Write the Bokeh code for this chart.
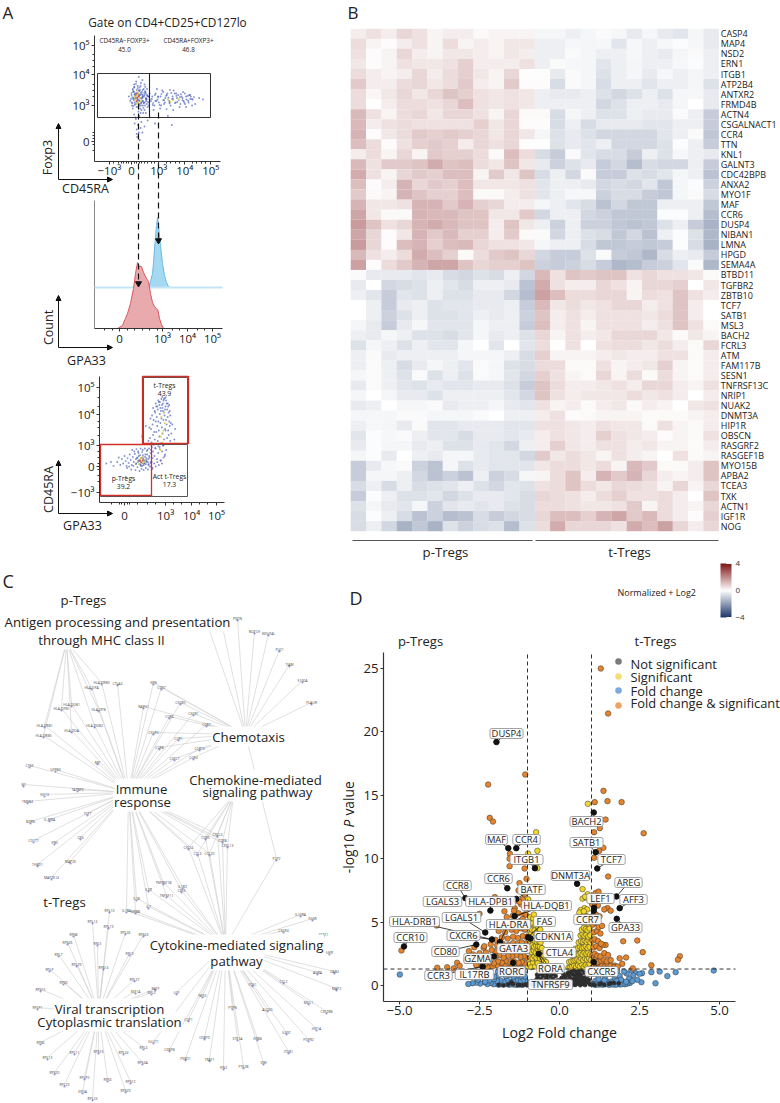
from math import pi
from bokeh.plotting import figure
from bokeh.models import (Range1d, LinearAxis, FixedTicker, Arrow, NormalHead, LinearColorMapper, ColorBar, ColumnDataSource)
from bokeh.core.properties import value
from bokeh.transform import transform
from bokeh.embed import file_html
from bokeh.resources import INLINE

FONT = "Open Sans"
# ---------- Panel B data ----------
genes = ["CASP4","MAP4","NSD2","ERN1","ITGB1","ATP2B4","ANTXR2","FRMD4B","ACTN4","CSGALNACT1","CCR4","TTN","KNL1","GALNT3","CDC42BPB","ANXA2","MYO1F","MAF","CCR6","DUSP4","NIBAN1","LMNA","HPGD","SEMA4A","BTBD11","TGFBR2","ZBTB10","TCF7","SATB1","MSL3","BACH2","FCRL3","ATM","FAM117B","SESN1","TNFRSF13C","NRIP1","NUAK2","DNMT3A","HIP1R","OBSCN","RASGRF2","RASGEF1B","MYO15B","APBA2","TCEA3","TXK","ACTN1","IGF1R","NOG"]
expr = [
[.3,.5,.3,.7,.5,.2,.3,.3,.1,.2,.2,.2,-.2,-.2,-.3,-.2,-.1,-.2,-.4,-.2,-.4,-.5,-.2,-.4],
[.6,.2,.05,.3,.5,.2,.6,.2,.3,.2,.4,.4,-.3,-.3,-.15,-.2,-.15,-.5,-.15,-.3,-.15,-.05,-.15,-.4],
[.5,.05,.2,.7,.3,.2,.4,.4,.3,.2,.4,.3,-.3,-.3,-.1,-.2,-.3,-.3,-.15,-.3,-.4,-.2,-.1,-.3],
[.4,.05,.2,.5,.4,.4,.5,.8,.3,.3,.3,.5,-.3,-.1,-.15,-.2,-.5,-.3,-.2,-.3,-.3,-.15,-.05,-.3],
[.6,.3,.2,.3,.7,.3,.6,.8,.4,.2,.7,.02,.02,-.4,-.1,-.2,-.6,-.3,-.2,-.4,-.15,-.3,-.2,-.3],
[.9,.3,.3,.6,.7,.4,.6,.9,.3,.2,.9,.05,.05,-.7,-.1,-.2,-.7,-.3,-.3,-.5,-.3,-.3,-.2,-.6],
[.6,.15,.4,.7,.4,.7,1,.8,.5,.4,.5,.4,-.3,-.4,-.4,-.3,-.6,-.8,-.6,-.3,-.6,-.2,-.15,-.4],
[.6,0,.3,.6,.6,.5,.7,1.1,.5,.4,.5,.4,-.3,-.3,-.3,-.3,-.8,-.6,-.3,-.3,-.4,-.2,0,-.4],
[1.2,.5,.2,.6,.7,.4,.7,.7,.5,.2,.7,.1,.1,-.7,-.2,-.3,-.6,-.6,-.3,-.4,-.4,-.1,-.3,-1.0],
[1.2,.3,.5,.6,.5,.5,.5,.5,.8,.4,.7,.05,.05,-.7,-.3,-.7,-.4,-.4,-.4,-.5,-.5,-.3,-.3,-1.0],
[1.3,.05,.4,.6,.9,.8,.9,.8,.7,.4,.7,.4,-.2,-.6,-.4,-.6,-.8,-.8,-.8,-.8,-.5,-.3,-.1,-1.1],
[1.1,.6,.05,.5,.8,.9,.8,.3,.7,.5,.7,.02,.02,-.6,-.4,-.5,-.3,-.8,-.8,-.8,-.6,-.05,-.3,-1.0],
[.3,.6,.2,.7,.2,.9,.8,.8,.6,.1,1.1,.6,-.7,-1.0,-.1,-.5,-.7,-.7,-1.0,-.3,-.6,-.15,-.3,-.4],
[1.2,.5,.9,.9,1,1.4,1,1.1,.6,.4,1,.4,-.4,-.9,-.6,-.4,-1.0,-.8,-1.3,-.7,-.8,-.8,-.3,-1.0],
[1.4,.5,.2,.7,.9,.8,1.1,1.1,.2,.9,.4,1,-.7,-.3,-.8,-.1,-1,-1,-.6,-.7,-.5,-.2,-.3,-1.2],
[1.1,.05,.3,1.3,.7,.9,.8,1.1,.4,.4,.4,.5,-.5,-.3,-.3,-.4,-.8,-.7,-.8,-.5,-1.1,-.2,-.05,-.9],
[.9,.1,.2,1.3,1,.8,.8,1.1,.1,.1,.3,.5,-.5,-.3,-.15,-.15,-.9,-.7,-.7,-1,-1.1,-.2,-.1,-.7],
[1.3,.4,.4,.5,1.3,1.3,.9,1.3,.8,.7,.3,.3,-.2,-.3,-.5,-.7,-1.2,-.8,-1.1,-1.1,-.3,-.3,-.3,-1.1],
[1.5,.4,.1,.1,1.3,1.2,1.2,1,1,.4,.4,.9,-.8,-.3,-.3,-.8,-.9,-1.1,-1.1,-1.1,-.05,-.05,-.3,-1.3],
[1.7,1,.5,.7,1.3,1.4,1.2,1,1,.3,1,.4,-.3,-.9,-.3,-.9,-.9,-1.1,-1.2,-1.1,-.6,-.3,-1.0,-1.5],
[1.5,.7,.05,.4,1.3,.9,1.2,.8,.8,.3,.9,.1,-.1,-.8,-.3,-.6,-.7,-1.1,-.8,-1.2,-.3,-.05,-.6,-1.4],
[1.7,.7,.05,1.1,1.3,.8,1.1,1.2,.7,.5,.5,.4,-.2,-.3,-.3,-.7,-1.1,-1.1,-1.0,-1.1,-1.0,-.05,-.7,-1.5],
[1.2,.5,.3,.6,1.4,1.1,.8,.1,.6,.9,1,.7,-.8,-1,-1,-.6,-.1,-1,-1.1,-1.4,-.7,-.3,-.4,-1.0],
[1.6,.05,.6,.9,1.3,1.5,1.5,1,.7,.8,.8,1,-.9,-1,-.9,-.7,-1,-1.4,-1.3,-1,-.9,-.5,-.1,-1.4],
[-.1,-.4,-.4,-.4,-.5,-.4,-.7,-.8,-.6,-.7,-.3,-.8,1.2,.5,1,.9,1,1,.5,.7,.5,.5,.4,.1],
[-.4,0,-.8,-.7,-.6,-.3,-.5,-.7,-.3,-.3,-.4,-1.2,1.4,.5,.3,.3,.7,.5,.2,.7,.7,.8,0,.4],
[-.3,-.5,-1,-.5,-.6,-.3,-.6,-.6,-.4,-.4,-.8,-1.3,1.6,1.1,.6,.6,.7,.7,.2,.6,.5,1.0,.5,.3],
[0,-.3,-1,-.4,-.3,-.6,-.5,-.5,-.4,-.4,-.3,-1,1.2,.4,.6,.4,.5,.7,.7,.3,.5,1,.3,0],
[0,-.3,-.9,-.6,-.3,-.6,-.6,-.5,-.3,-.4,-.3,-.9,1,.3,.5,.3,.5,.5,.5,.4,.6,1,.3,0],
[-.2,-.4,-1,-.4,-.2,-.5,-.5,-.5,-.2,-.3,-.3,-1,1.1,.3,.5,.2,.5,.5,.5,.3,.5,1,.5,.1],
[-.3,-.4,-.2,-.3,-.6,-.6,-.7,-.5,-.2,-.4,-.3,-.6,.7,.2,.5,.3,.4,.7,.7,.7,.4,.1,.4,.2],
[-.6,-.2,-.3,-.6,-.3,-.5,-.5,-.2,0,-.5,0,-.5,.6,0,.5,0,.5,.6,.6,.4,.6,.3,.1,.7],
[-.3,-.1,-.4,-.3,-.3,-.3,-.3,-.2,-.2,-.2,-.3,-.7,.8,.2,.2,.2,.3,.4,.3,.3,.5,.5,.1,.3],
[-.3,-.1,-.3,-.7,-.4,-.2,-.3,-.5,-.1,-.2,-.6,-.7,.6,.6,.1,.1,.5,.2,.3,.4,.8,.2,.1,.3],
[-.2,-.1,-.3,-.6,-.1,-.6,-.3,-.6,-.1,-.2,-.5,-.8,.8,.5,.2,.1,.7,.2,.6,.1,.6,.2,.1,.3],
[-.4,-.1,-.3,-.5,-.6,-.4,-.5,-.5,-.4,-.4,-.6,-1,1,.6,.3,.3,.4,.5,.3,.7,.7,.3,.2,.5],
[-.2,0,-.2,-.4,-.4,-.6,-.3,-.3,-.3,-.3,-.5,-.8,1,.5,.3,.4,.4,.4,.6,.4,.5,.3,0,.3],
[-.4,-.3,0,-.2,-.2,-.1,-.4,-.3,-.3,-.2,-.4,-.5,.5,.2,.3,.1,.3,.4,.1,.3,.2,0,.4,.5],
[-.2,-.2,-.2,-.1,-.1,-.2,-.2,-.2,-.1,0,-.3,-.3,.3,.5,.05,.1,.2,.2,.2,.1,.1,.1,.2,.3],
[-.3,-.15,-.2,-.4,-.1,-.5,-.5,-.4,-.4,-.4,-.5,-.5,.5,.5,.4,.3,.5,.4,.4,.1,.5,.2,.1,.3],
[-.5,-.05,-.15,-.1,-.3,-.5,-.5,-.7,-.4,-.4,-.5,-.4,.3,.5,.4,.3,.8,.5,.4,.3,.05,.2,.1,.5],
[-.4,-.05,-.2,-.2,-.4,-.3,-.6,-.6,-.4,-.5,-.8,-.3,.3,.8,.4,.3,.5,.5,.3,.4,.2,.2,.1,.3],
[-.2,-.05,-.4,0,-.3,-.4,-.2,-.2,-.4,-.5,-.5,-.8,.9,.4,.6,.4,.2,.5,.3,.2,0,.5,.1,.2],
[-1,-.4,-.15,-.1,-.9,-1.2,-.2,-.6,-.4,-.5,-.5,-.5,.4,.6,.6,.4,.6,.2,1.2,.9,.1,.1,.3,1.0],
[-1,-.2,-.2,-.3,-.8,-1.2,-.9,-1.2,-.3,-.9,-.7,-.2,.2,.6,1,.3,1.3,.9,1.3,.7,.3,.2,.3,1.0],
[-.7,-.3,-.7,-.3,-.7,-.6,-.5,-.3,-.6,-.8,-.5,-.6,.5,.6,1,.6,.4,.7,.6,.5,.2,.7,.2,.7],
[-1,-.05,-.3,-.6,-.6,-.5,-.8,-.6,-.4,-.4,-.5,-.7,.7,.6,.5,.3,.6,.8,.5,.5,.6,.3,0,1.0],
[-.6,-.2,-.4,-.5,-.2,-.9,-.5,-.4,-.5,-.4,-.6,-.7,.6,.6,.5,.4,.4,.5,.9,.2,.6,.3,.2,.7],
[-.7,-.05,-.3,-.7,-1.2,-.9,-1.3,-1.2,-.7,-1,-.8,-.7,.7,1.1,1.1,.8,1.3,1.5,.9,1.2,.6,.3,.05,.8],
[-.7,-.3,-.8,-1.5,-1.1,-1.5,-.6,-.9,-.7,-.6,-1.3,-.6,.6,1.4,.7,.7,.7,.5,1.4,1.1,1.6,.7,.3,.7],
]
# ---------- Panel A data (biexponential display units) ----------
a1_tick_x = [-0.85, 0, 1.05, 2.05, 3.05]
a1_tick_y = [0, 1.2, 2.23, 3.2]
a1_blue_x = [-.1,-.05,0,.02,.05,.08,.1,.12,.15,.18,.2,.22,.25,.28,.3,.32,.35,.38,.4,.42,.45,.48,.5,.52,.55,.58,.6,.62,.65,.68,.7,.05,.12,.2,.3,.42,.5,.6,.7,.1,.18,.28,.38,.47,.56,.66,0,.07,.16,.24,.34,.44,.54,.64,.75,.8,.88,.93,1,1.05,1.12,1.18,1.25,1.3,1.38,1.45,1.5,1.58,1.62,1.7,1.75,1.8,1.88,1.92,2,2.05,2.12,2.2,2.28,2.35,2.45,2.6,2.75,.85,.98,1.1,1.22,1.35,1.48,1.6,1.72,1.85,1.98,2.1,2.22,2.33,.1,.17,.25,.3,.38,.2,.12,.28,.35,.22,.15,.32,.42,.55,.62,.27,.5,.9,1.4,1.55,.45,.7,.2,.35,
 -.02,.03,.06,.09,.11,.13,.16,.17,.19,.21,.23,.24,.26,.27,.29,.31,.33,.34,.36,.37,.39,.41,.43,.44,.46,.49,.51,.53,.56,.59,.03,.07,.1,.14,.18,.2,.24,.28,.31,.35,.39,.43,.47,.52,.57,.61,.01,.06,.12,.15,.22,.26,.3,.33,.37,.41,.46,.5,.55,.63,.78,.83,.9,.96,1.03,1.08,1.15,1.22,1.28,1.33,1.42,1.47,1.53,1.6,1.67,1.73,1.82,1.9,1.96,2.03,2.1,2.18,2.25,2.32,2.4,.82,.92,1.02,1.14,1.26,1.36,1.46,1.56,1.66,1.76,1.86,1.96,2.06,2.16,2.26]
a1_blue_y = [1.5,1.35,1.62,1.2,1.75,1.45,1.9,1.3,1.6,2.0,1.15,1.7,1.4,2.15,1.55,1.25,1.85,1.05,1.65,2.05,1.35,1.5,1.9,1.2,1.6,1.4,1.75,1.15,1.5,1.3,1.6,1.1,1.55,1.35,1.2,1.45,1.05,1.55,1.4,1.8,1.25,1.7,1.3,1.75,1.35,1.2,1.55,1.65,1.45,1.85,1.55,1.2,1.65,1.5,1.35,1.5,1.2,1.6,1.4,1.3,1.5,1.7,1.25,1.45,1.6,1.35,1.2,1.5,1.7,1.3,1.45,1.55,1.25,1.5,1.35,1.6,1.4,1.3,1.5,1.4,1.25,1.45,1.4,1.05,1.75,1.1,1.65,1.08,1.72,1.05,1.6,1.15,1.65,1.15,1.55,1.2,.9,.75,.55,.85,.65,.4,.6,.3,.45,.15,.8,.05,.3,.95,.7,1.0,.5,.6,.85,.55,.95,.8,.25,.95,
 1.42,1.28,1.7,1.38,1.82,1.22,1.52,1.92,1.33,1.62,1.47,1.78,1.15,1.56,1.38,1.68,1.1,1.45,1.95,1.28,1.58,1.35,1.72,1.5,1.12,1.62,1.3,1.82,1.45,1.25,1.48,1.18,1.66,1.42,1.58,1.72,1.3,1.5,1.8,1.62,1.42,1.55,1.28,1.68,1.42,1.52,1.3,1.42,1.58,1.25,1.42,1.6,1.35,1.72,1.2,1.48,1.3,1.55,1.42,1.32,1.42,1.28,1.55,1.35,1.48,1.22,1.58,1.38,1.3,1.52,1.46,1.3,1.62,1.42,1.28,1.52,1.38,1.58,1.45,1.3,1.5,1.36,1.55,1.42,1.48,1.22,1.35,1.5,1.2,1.38,1.55,1.28,1.42,1.6,1.32,1.48,1.38,1.25,1.52,1.42]
a1_hot_x = [.15,.2,.25,.28,.18,.32,.22,.12,.36,.27,1.4,1.6,1.5,1.8]
a1_hot_y = [1.4,1.55,1.3,1.6,1.25,1.45,1.7,1.5,1.35,1.48,1.4,1.38,1.32,1.42]
a1_red_x = [.22,.18,.27,.2]
a1_red_y = [1.45,1.58,1.5,1.35]
hist_red_x = [-.08,.12,.32,.44,.56,.64,.72,.80,.88,.96,1.08,1.16,1.24,1.32,1.40,1.48,1.54,1.60,1.68,1.76]
hist_red_y = [0,3,15,25,40,55,66,62,62,56,50,47,35,26,22,20,18,10,4,0]
hist_blue_x = [1.16,1.24,1.32,1.36,1.42,1.48,1.52,1.56,1.64,1.72,1.80,1.88,1.96,2.04]
hist_blue_y = [0,6,14,25,45,62,70,62,42,24,12,5,1,0]
hist_blue_base = 41
a2_tick_x = [0, 1.72, 2.72, 3.72]
a3_tick_x = [0, 1.58, 2.58, 3.54]
a3_tick_y = [-.87, 0, .7, 1.73, 2.63]
a3_blue_x = [-.28,-.22,-.16,-.1,-.05,0,.04,.08,.12,.16,.2,.24,.28,.32,.36,.4,.44,.48,.52,.56,.6,.64,.68,.72,.76,.8,.84,.88,.92,.96,1.0,1.04,1.08,.1,.18,.26,.34,.42,.5,.58,.66,.74,.82,.9,.98,1.06,.3,.38,.46,.54,.62,.7,.78,.86,.94,1.02,.45,.53,.61,.69,.77,.85,.93,1.01,.55,.63,.71,.79,.87,.95,.6,.68,.76,.84,.92,1.0,.5,.58,.66,.74,.82,.9,.44,.52,.6,.68,.76,.84,
 1.05,1.1,1.15,1.2,1.25,1.3,1.35,1.4,1.45,1.5,1.55,1.6,1.08,1.14,1.2,1.26,1.32,1.38,1.44,1.5,1.56,1.12,1.18,1.24,1.3,1.36,1.42,1.48,
 .92,.98,1.04,1.1,1.16,1.22,1.28,1.34,1.4,1.46,1.52,1.58,1.64,1.7,1.76,.96,1.02,1.08,1.14,1.2,1.26,1.32,1.38,1.44,1.5,1.56,1.62,1.68,1.74,1.8,1.0,1.06,1.12,1.18,1.24,1.3,1.36,1.42,1.48,1.54,1.6,1.66,1.72,1.78,1.84,1.1,1.16,1.22,1.28,1.34,1.4,1.46,1.52,1.58,1.64,1.7,1.76,1.2,1.26,1.32,1.38,1.44,1.5,1.56,1.62,1.68,1.74,1.3,1.36,1.42,1.48,1.54,1.6,1.66,1.45,1.52,1.58,
 -.7,-.52,-.42,.68,.82,1.92,.72,1.72,.05,1.95]
a3_blue_y = [.15,.3,.05,.25,.1,.35,.18,.02,.28,.12,.4,.22,.05,.32,.15,.42,.08,.28,.5,.18,.38,.02,.48,.25,.1,.4,.18,.55,.08,.3,.45,.15,.28,-.05,.0,-.1,.02,-.12,-.02,-.15,-.08,-.12,-.05,-.1,.0,-.08,.55,.5,.58,.45,.6,.55,.6,.52,.6,.55,.1,.2,.05,.3,.12,.22,.05,.15,.35,.28,.38,.32,.4,.35,.18,.1,.2,.15,.25,.12,.3,.22,.12,.05,.08,.15,.25,.15,.08,.02,.2,.28,
 .65,.5,.35,.6,.25,.45,.65,.2,.5,.7,.35,.55,-.05,.1,.0,.15,.05,.2,.1,.3,.4,.72,.62,.75,.68,.58,.75,.7,
 .85,.95,.8,1.05,.9,1.15,.85,1.0,.78,1.1,.9,1.2,.95,1.05,.85,1.3,1.25,1.4,1.15,1.5,1.35,1.2,1.45,1.3,1.55,1.25,1.4,1.2,1.35,1.1,1.6,1.7,1.55,1.8,1.65,1.5,1.75,1.6,1.85,1.7,1.55,1.65,1.5,1.45,1.4,1.95,1.85,2.0,1.9,2.05,1.85,1.95,1.8,2.0,1.9,1.8,1.7,2.1,2.0,2.15,1.95,2.05,2.2,1.9,2.1,2.0,1.85,2.2,2.15,2.25,2.1,2.28,2.2,2.1,2.32,2.25,2.3,
 .1,.15,.02,1.0,1.35,.9,1.75,2.05,-.35,1.25]
a3_hot_x = [.5,.58,.66,.7,.75,.62,.8,.55,.72,1.4,1.5,1.45,1.55,1.42,1.48,1.38,1.52]
a3_hot_y = [.15,.22,.1,.2,.15,.28,.22,.08,.32,1.0,1.2,.8,1.45,1.65,1.1,.55,1.8]
a3_red_x = [.64,.7,.6]
a3_red_y = [.14,.2,.2]
# ---------- Panel C data ----------
ant_leaves = [("HLA-DRB5",101,682),("HLA-DPA",91,687),("HLA-DQB1",71,704),("HLA-DPB1",61,708),("HLA-DPB",98,709),("HLA-DRB1",44,725),("HLA-DOA",71,730),("HLA-DOB2",94,725),("HLA-DRB5",43,735)]
che_leaves = [("PEAK1",220,617),("PXDN",237,618),("NOTCH",254,631),("NDUFAL",268,633),("PLD1",279,649),("TIAM",289,664),("S100A",302,680),("PLAUR",311,702),("FLNA",203,613)]
mid_leaves = [("SPN",153,682),("CD97",161,687),("RAPH1",143,706),("CXCR5",180,702),("CXCR1",193,713),("CCR6",169,716),("CCR7",206,724),("CXCR3",153,732),("CCR1",178,738),("CCR10",199,748),("CCR8",159,747),("CXCL7",174,758),("CCR4",193,757)]
imm_leaves = [("CTLA4",117,683),("MIF",97,762),("CTSK",29,765),("GFPB3",55,769),("B7",23,784),("KIF13",44,794),("TAPBP2",77,789),("TMSB4",27,801),("TCF7",87,813),("BZRN",30,821),("IL-MRA",49,819),("CD177",33,840),("IFNI",54,842),("CKS",80,837),("THBD1",37,864),("MAP2K",70,861),("MAP2K14",51,877)]
ccl_leaves = [("CCR5",205,837),("CXCL3",217,834),("CCR8",222,840),("CXCL13",227,845),("CXCL6",188,847),("CCL3",197,853),("CCL20",209,853)]
cyt_leaves = [("TNFRSF1B",163,882),("IL1R2",182,886),("CSF6",181,890),("IL2R",148,889),("TNFSF11",166,895),("IL18",136,898),("IL7",148,906),("IL1RA",126,910),("NRBB",135,911)]
cyt2_leaves = [("PLP2",276,858),("IL10RA",300,914),("FGSR",312,918),("CXCR4",283,930),("STAT1",323,934),("LIFR",329,952),("AQRA",317,972),("GAB2",334,971),("MAP2",336,988),("CCL2",283,981),("CSF2RB",326,1011),("MOL1",308,1002),("HIF1A",316,1028),("IL6ST",286,1032),("PGPR2",308,1039),("ITGB1",288,1051),("VIM",263,1062),("PTK2B",243,1066),("IFN2",223,1067),("STK1A",237,1038),("ERBB",257,1038),("ALOX5",267,1009),("PTPN",232,1007),("FOS1",252,984),("NFE2",202,995),("LGF",176,992),("COF1",188,1019),("CEBPD",204,1037),("TRAF1",209,1059),("PSBD1",185,1058),("CEBPB",169,1049),("GLUT1",153,1041)]
vir_leaves = [("RPL10",109,910),("RPL14",92,921),("RPL19",108,926),("RPS8",73,934),("RPL36",125,932),("RPS24",143,934),("RPS26",67,942),("RPL5",97,943),("RPL7",58,954),("RPL9",129,953),("RPL29",76,964),("RPS14",103,967),("RPLP",49,969),("RPL27",134,979),("RPS9",63,982),("RPS15",40,989),("EEF1A",135,991),("BATF",155,988),("RPL3",151,992),("RPLP1",37,1007),("RPS6",40,1042),("RPL13",47,1057),("RPL11",74,1052),("RPS16",98,1051),("RPL34",123,1052),("RPL4",143,1047),("RPS3A",142,1062),("RPS20",54,1072),("RPLP0",84,1077),("RPS3",107,1079),("RPS12",130,1081),("RPL23",64,1084),("RPS29",125,1090),("EIF3A",82,1091),("RPL24",92,1098)]
# ---------- Panel D data ----------
v_ticks_x = [-5, -2.5, 0, 2.5, 5]
v_ticks_y = [0, 5, 10, 15, 20, 25]
v_gray_x = [-.95,-.88,-.8,-.72,-.65,-.58,-.5,-.42,-.35,-.28,-.2,-.12,-.9,-.78,-.68,-.6,-.52,-.44,-.38,-.3,-.22,-.15,-.7,-.62,-.55,-.47,-.4,-.32,-.25,-.18,-.5,-.42,-.35,-.28,-.2,-.14,.12,.18,.25,.32,.4,.47,.55,.62,.7,.78,.85,.92,.16,.22,.3,.37,.44,.52,.6,.67,.75,.82,.9,.2,.27,.34,.42,.5,.57,.64,.72,.8,.24,.32,.39,.46,.53,.6,.68,.76,.3,.37,.45,.52,.58,.66,.4,.48,.55,.62,-1.9,-1.75,-1.6,-1.45,-1.3,-1.15,-1.0,-.85,-.7,-.55,-.4,-.25,-.1,.05,.2,.35,.5,.65,.8,.95,1.1,1.25,1.4,1.55,1.7,1.85,-1.5,-1.25,-1.05,-.75,-.45,-.15,.1,.45,.75,1.05,1.3,1.6,-.05,.02,.08,.12,-.02,.06]
v_gray_y = [.2,.3,.25,.45,.3,.5,.35,.6,.4,.7,.5,.75,.1,.12,.65,.15,.75,.22,.85,.18,.9,.3,.85,.9,.95,1.0,.95,1.05,1.1,1.0,.08,.1,.12,.1,.15,.12,.4,.7,.95,1.15,1.35,1.45,1.4,1.3,1.2,1.0,.7,.45,.2,.45,.75,1.0,1.2,1.1,1.05,.85,.6,.4,.25,.15,.3,.55,.85,.8,.9,.7,.5,.25,.1,.12,.35,.55,.6,.45,.3,.15,.08,.2,.3,.28,.35,.12,.1,.08,.15,.15,.05,.02,.08,.12,.04,.02,.06,.02,.01,.05,.03,.01,.02,.05,.02,.03,.06,.03,.04,.08,.02,.1,.05,.12,.2,.18,.25,.05,.08,.1,.03,.1,.08,.06,.12,.1,.15,.2,.4,.15,.6,.9,.25,.55]
v_yel_x = [-.98,-.93,-.88,-.82,-.76,-.7,-.64,-.58,-.52,-.46,-.4,-.36,-.96,-.9,-.84,-.78,-.72,-.66,-.6,-.54,-.48,-.42,-.94,-.87,-.8,-.74,-.68,-.62,-.56,-.5,-.92,-.85,-.79,-.73,-.67,-.61,-.55,-.96,-.9,-.84,-.77,-.71,-.65,-.59,-.95,-.88,-.81,-.75,-.69,-.63,-.93,-.86,-.78,-.7,-.64,-.96,-.84,-.75,-.66,-.92,-.82,-.72,-.98,-.88,-.8,-.6,-.68,-.73,-.73,-.69,-.98,-.69,
 .28,.34,.4,.46,.52,.58,.64,.7,.76,.82,.88,.94,.3,.37,.44,.5,.56,.62,.68,.74,.8,.86,.92,.98,.4,.47,.53,.6,.66,.72,.78,.84,.9,.96,.5,.58,.64,.7,.76,.82,.88,.94,.6,.67,.73,.79,.85,.91,.97,.66,.72,.78,.84,.9,.96,.7,.76,.82,.88,.94,.74,.82,.9,.78,.86,.95,.78,.86,.68,.72,.82,.88,.94,.72,.66,.62,.885,.8,.76]
v_yel_y = [1.5,1.7,1.45,1.8,1.5,1.9,1.55,1.7,1.45,1.6,1.45,1.4,2.1,2.2,2.15,2.3,2.2,2.35,2.1,2.2,1.95,1.85,2.7,2.65,2.75,2.6,2.85,2.7,2.55,2.4,3.1,3.2,3.05,3.15,3.1,3.05,2.95,3.5,3.65,3.6,3.5,3.45,3.5,3.4,4.0,4.1,3.95,3.85,3.9,3.8,4.5,4.4,4.35,4.2,4.25,5.0,4.9,4.75,4.6,5.4,5.3,5.1,6.8,6.2,5.6,4.4,1.75,12.09,9.6,9.25,10.4,10.62,
 1.4,1.45,1.5,1.6,1.45,1.6,1.5,1.65,1.45,1.6,1.5,1.7,1.85,1.9,1.95,2.0,2.05,1.95,2.1,2.0,2.15,2.05,2.15,2.0,2.35,2.45,2.5,2.45,2.55,2.45,2.6,2.5,2.6,2.45,2.9,2.95,3.05,2.95,3.0,3.1,2.95,3.05,3.4,3.5,3.45,3.55,3.45,3.55,3.4,3.95,4.05,3.9,4.0,3.85,3.95,4.4,4.55,4.45,4.35,4.5,5.0,5.05,4.9,5.55,5.45,5.3,6.1,6.0,5.8,6.85,6.95,7.2,6.7,7.6,5.95,5.75,14.33,7.0,5.85]
v_org_x = [1.29,1.52,-1.07,-2.23,1.375,1.5,1.94,1.10,-2.18,-2.08,1.44,1.26,1.08,2.63,1.37,1.24,-1.55,1.08,-1.56,-1.56,-1.09,-1.03,-1.25,1.52,-2.02,1.99,2.43,2.6,1.44,1.88,2.08,1.96,2.87,3.76,3.70,2.29,1.72,-4.94,-3.84,-3.82,-3.51,-3.3,-3.2,-3.12,-2.83,-2.66,-2.37,-2.5,
 -1.2,-1.3,-1.38,-1.5,-1.62,-1.72,-1.85,-1.95,-2.1,-2.25,-1.1,-1.18,-1.28,-1.42,-1.55,-1.68,-1.8,-1.92,-2.05,-2.18,-2.32,-2.45,-2.6,-1.04,-1.12,-1.22,-1.35,-1.48,-1.6,-1.75,-1.88,-2.0,-2.15,-2.28,-2.42,-2.55,-2.72,-2.9,-1.02,-1.1,-1.25,-1.4,-1.52,-1.68,-1.82,-1.98,-2.12,-2.3,-2.5,-2.7,-1.05,-1.18,-1.32,-1.45,-1.6,-1.78,-1.95,-2.15,-2.35,-1.03,-1.15,-1.3,-1.45,-1.62,-1.8,-2.0,-1.08,-1.2,-1.35,-1.5,-1.7,-1.9,-1.06,-1.22,-1.38,-1.55,-1.75,-1.1,-1.28,-1.46,-1.65,-1.05,-1.2,-1.4,-1.15,-1.35,-1.1,-1.28,-1.55,-1.42,-1.3,-1.15,-1.05,-1.72,-1.25,
 1.02,1.08,1.14,1.2,1.27,1.34,1.42,1.5,1.6,1.7,1.82,1.05,1.12,1.2,1.3,1.38,1.48,1.6,1.03,1.1,1.18,1.28,1.4,1.52,1.06,1.15,1.25,1.35,1.03,1.1,1.2,1.3,1.08,1.17,1.28,1.04,1.12,1.22,1.33,1.05,1.14,1.25,1.02,1.1,1.2,1.05,1.13,1.22,1.5,1.4,1.6]
v_org_y = [25.0,21.45,16.64,15.85,15.35,14.54,14.46,14.46,13.22,12.93,13.09,12.41,12.09,12.01,10.86,10.62,10.38,10.07,10.0,9.41,9.23,8.41,8.07,8.6,6.97,3.49,3.55,2.63,3.2,2.15,2.21,1.71,1.6,2.31,2.03,1.35,1.58,2.76,4.73,1.4,1.44,1.35,1.79,1.55,2.71,3.02,2.97,5.65,
 1.38,1.45,1.4,1.5,1.42,1.55,1.45,1.6,1.5,1.42,1.75,1.85,1.8,1.9,1.85,1.95,1.8,1.9,1.75,1.85,1.7,1.55,1.6,2.2,2.3,2.25,2.4,2.3,2.35,2.2,2.4,2.3,2.25,2.15,2.3,2.1,2.2,1.95,2.75,2.85,2.75,2.9,2.8,2.7,2.85,2.7,2.8,2.6,2.55,2.45,3.3,3.4,3.25,3.35,3.2,3.3,3.15,3.25,3.1,3.8,3.9,3.75,3.85,3.7,3.8,3.6,4.4,4.5,4.3,4.4,4.2,4.3,5.0,5.1,4.9,5.0,4.7,5.6,5.7,5.5,5.4,6.2,6.4,6.1,6.8,6.7,7.2,7.5,6.5,5.9,4.75,5.25,5.6,5.85,6.6,
 1.4,1.5,1.42,1.55,1.45,1.6,1.5,1.7,1.55,1.45,1.5,1.9,2.0,1.85,1.95,2.05,1.9,2.0,2.4,2.5,2.35,2.3,2.55,2.4,3.0,3.1,2.95,3.2,3.55,3.65,3.5,3.3,4.2,4.3,4.1,4.8,4.95,4.6,4.7,5.5,5.6,5.45,6.4,6.5,6.3,7.1,7.3,7.4,6.1,6.0,5.9]
v_blue_x = [-4.99,4.82,3.0,3.37,3.63,3.13,2.87,2.56,2.58,2.5,2.43,2.35,2.3,2.25,2.18,2.1,2.02,1.95,1.88,1.8,1.72,1.65,1.58,1.5,1.42,1.35,1.28,1.2,1.12,1.05,2.2,2.12,2.05,1.98,1.9,1.82,1.75,1.66,1.55,1.45,1.35,1.25,1.15,1.05,2.28,2.08,1.92,1.78,1.6,1.4,1.22,
 -1.02,-1.1,-1.18,-1.26,-1.34,-1.42,-1.5,-1.58,-1.66,-1.74,-1.82,-1.9,-1.98,-2.06,-2.15,-2.25,-2.35,-2.48,-2.6,-2.72,-2.85,-1.05,-1.15,-1.25,-1.35,-1.45,-1.55,-1.65,-1.75,-1.85,-1.95,-2.05,-2.2,-2.32,-1.08,-1.2,-1.32,-1.44,-1.56,-1.68,-1.8,-1.92,-2.04,-1.12,-1.28,-1.44,-1.6,-1.76,-1.92,-2.3,-2.55]
v_blue_y = [.87,1.18,.18,.74,1.05,1.1,1.05,.26,.97,.92,.45,1.05,.8,1.2,.55,.95,1.1,.35,.75,1.15,.5,.9,1.15,.3,.65,1.05,.15,.8,.35,.1,.2,.15,.1,.12,.08,.1,.06,.08,.05,.1,.06,.08,.05,.12,.35,.3,.45,.35,.3,.4,.5,
 .08,.1,.06,.08,.05,.07,.1,.06,.12,.08,.1,.06,.15,.1,.2,.12,.25,.15,.22,.18,.12,.35,.4,.3,.45,.35,.3,.42,.28,.4,.35,.5,.4,.3,.7,.75,.8,.7,.85,.75,.9,.8,.7,1.05,1.1,1.0,1.15,1.05,1.1,.9,.45]
v_blk_x = [-1.97,-1.60,-1.35,-.77,-1.63,-2.94,-1.35,-2.16,-1.40,-2.32,-2.11,-1.86,-.98,-.91,-4.86,-2.60,-2.05,-2.40,-1.45,-.65,1.13,1.18,1.07,.55,1.78,1.88,1.08,1.07,1.79,1.07]
v_blk_y = [19.2,10.83,10.83,9.25,7.67,6.89,6.83,5.91,5.47,4.18,3.63,3.42,3.81,3.71,3.08,3.23,2.29,1.5,1.79,2.5,10.51,9.23,13.64,8.02,7.02,6.1,6.13,5.89,5.26,1.84]
v_labels = [("DUSP4",506,733,0),("MAF",496,839,1),("CCR4",526,839,2),("ITGB1",526,859,3),("CCR6",498,878,4),("CCR8",457,885,5),("BATF",531,889,6),("HLA-DPB1",490,901,7),("HLA-DQB1",546,905,8),("LGALS3",442,901,5),("LGALS1",461,917,9),("HLA-DRB1",414,921,10),("HLA-DRA",508,924,11),("FAS",544,921,12),("CDKN1A",553,936,13),("CCR10",410,937,14),("CXCR6",463,935,10),("CD80",445,951,15),("GATA3",513,948,11),("GZMA",477,958,16),("CCR3",438,975,17),("IL17RB",474,974,17),("RORC",511,971,18),("CTLA4",559,952,19),("RORA",550,968,19),("TNFRSF9",550,984,19),("SATB1",586,842,20),("TCF7",611,859,21),("BACH2",586,821,22),("DNMT3A",570,875,23),("AREG",628,882,24),("AFF3",633,899,25),("LEF1",600,898,26),("CCR7",587,919,27),("GPA33",625,927,28),("CXCR5",601,971,29)]
legend_names = ["Not significant","Significant","Fold change","Fold change & significant"]
legend_cols = ["#7a7a7a","#f3de78","#7ba8dd","#eda364"]

# ---------- Canvas ----------
W, H = 780, 1103
p = figure(width=W, height=H, x_range=Range1d(0, W), y_range=Range1d(H, 0),
           output_backend="svg", toolbar_location=None, x_axis_location=None, y_axis_location=None,
           min_border=0, outline_line_color=None)
p.grid.visible = False

def xr(name, a0, p0, a1, p1):
    k = (a1 - a0) / (p1 - p0)
    p.extra_x_ranges[name] = Range1d(a0 + (0 - p0) * k, a0 + (W - p0) * k)
def yr(name, a0, p0, a1, p1):
    k = (a1 - a0) / (p1 - p0)
    p.extra_y_ranges[name] = Range1d(a0 + (H - p0) * k, a0 + (0 - p0) * k)

def txt(x, y, s, size, color="#222222", angle=0, align="center", base="middle", style="normal", **kw):
    return p.text(x=[x], y=[y], text=[s], text_font=value(FONT), text_font_size=f"{size}px", text_color=color,
           angle=angle, text_align=align, text_baseline=base, text_font_style=style, **kw)

def axis(kind, xn, yn, loc, ticks, labels, bounds, size=11.5, minor=None, color="#333333", width=1, tick=3, standoff=2):
    ax = LinearAxis(x_range_name=xn, y_range_name=yn, fixed_location=loc, bounds=bounds,
             ticker=FixedTicker(ticks=ticks, minor_ticks=minor or []),
             major_label_overrides=dict(zip(ticks, labels)),
             major_label_text_font=FONT, major_label_text_font_size=f"{size}px",
             major_label_text_color="#222222", major_label_standoff=standoff,
             axis_line_color=color, axis_line_width=width, major_tick_line_color=color,
             major_tick_in=0, major_tick_out=tick, minor_tick_in=0, minor_tick_out=2,
             minor_tick_line_color=color)
    p.add_layout(ax, kind)
    return ax

def arrow(x0, y0, x1, y1, color="#111111", dash="solid", width=1, head=5):
    p.add_layout(Arrow(x_start=x0, y_start=y0, x_end=x1, y_end=y1, line_color=color, line_width=width, line_dash=dash,
                       end=NormalHead(size=head, fill_color=color, line_color=color)))

# ---------- Panel A ----------
txt(2, 12, "A", 17, align="left")
txt(167, 21, "Gate on CD4+CD25+CD127lo", 11.8)
lbl_x = ["\u221210\u00b3", "0", "10\u00b3", "10\u2074", "10\u2075"]
lbl_y = ["0", "10\u00b3", "10\u2074", "10\u2075"]
xr("a1x", 0, 131, 1, 157); yr("a1y", 0, 141, 1, 111)
minor_a1 = [-.7,-.5,-.4,-.3,-.2,-.1,.1,.2,.3,.4,.5,.6,.75,.9,1.35,1.5,1.7,1.85,2.35,2.5,2.7,2.85]
axis("below", "a1x", "a1y", -.67, a1_tick_x, lbl_x, (-1.42, 3.42), minor=minor_a1, standoff=-2)
axis("left", "a1x", "a1y", -1.42, a1_tick_y, lbl_y, (-.67, 3.53), minor=[-.3,-.1,.1,.2,.3,1.5,1.7,1.9,2.5,2.7,2.9])
p.scatter(x=a1_blue_x, y=a1_blue_y, size=1.9, fill_color="#3f55b5", line_color=None, fill_alpha=.65, x_range_name="a1x", y_range_name="a1y")
p.scatter(x=a1_hot_x, y=a1_hot_y, size=1.9, fill_color="#d9d24a", line_color=None, x_range_name="a1x", y_range_name="a1y")
p.scatter(x=a1_red_x, y=a1_red_y, size=1.9, fill_color="#e0563e", line_color=None, x_range_name="a1x", y_range_name="a1y")
p.quad(left=[97], right=[210], top=[73], bottom=[117], fill_color=None, line_color="#333333", line_width=1)
p.segment(x0=[149], y0=[73], x1=[149], y1=[117], line_color="#222222", line_width=1.1)
txt(124, 40, "CD45RA\u2212FOXP3+", 6.3); txt(124, 49, "45.0", 6.3)
txt(188, 40, "CD45RA+FOXP3+", 6.3); txt(188, 49, "46.8", 6.3)
arrow(58, 179, 58, 123); arrow(58, 179, 112, 179)
txt(47, 157, "Foxp3", 12.5, angle=pi/2); txt(85, 188, "CD45RA", 12.5)

xr("a2x", 0, 119, 1, 144); yr("a2y", 0, 328, 100, 228)
p.segment(x0=[94], y0=[200], x1=[94], y1=[328], line_color="#888888", line_width=1)
p.varea(x=hist_blue_x, y1=[hist_blue_base]*len(hist_blue_x), y2=[hist_blue_base + v for v in hist_blue_y], fill_color="#a5d8f1", x_range_name="a2x", y_range_name="a2y")
p.line(x=hist_blue_x, y=[hist_blue_base + v for v in hist_blue_y], line_color="#6cb9e6", line_width=1, x_range_name="a2x", y_range_name="a2y")
p.segment(x0=[94], y0=[287], x1=[222], y1=[287], line_color="#c3e4f6", line_width=2)
p.varea(x=hist_red_x, y1=[0]*len(hist_red_x), y2=hist_red_y, fill_color="#e7a3a6", fill_alpha=.92, x_range_name="a2x", y_range_name="a2y")
p.line(x=hist_red_x, y=hist_red_y, line_color="#d9585f", line_width=1, x_range_name="a2x", y_range_name="a2y")
axis("below", "a2x", "a2y", 0, a2_tick_x, ["0", "10\u00b3", "10\u2074", "10\u2075"], (-1, 4.1), minor=[-.6,-.3,.3,.6,.9,1.2,1.5,2.1,2.4,3.1,3.4], standoff=-1)
arrow(58, 347, 58, 295); arrow(58, 347, 112, 347)
txt(48, 327, "Count", 12.5, angle=pi/2); txt(86, 360, "GPA33", 12.5)
p.segment(x0=[138, 158], y0=[103, 112], x1=[138, 158], y1=[283, 240], line_color="#111111", line_width=1.2, line_dash="6 4")
p.scatter(x=[138, 158], y=[283, 240], marker="inverted_triangle", size=6, color="#111111")

xr("a3x", 0, 124, 1, 150); yr("a3y", 0, 466, 1, 436)
axis("below", "a3x", "a3y", -1.2, a3_tick_x, ["0", "10\u00b3", "10\u2074", "10\u2075"], (-.96, 3.85), minor=[-.5,-.2,-.1,.1,.2,.5,.9,1.2,1.9,2.2,2.9,3.2])
axis("left", "a3x", "a3y", -.96, a3_tick_y, ["\u221210\u00b3", "0", "10\u00b3", "10\u2074", "10\u2075"], (-1.2, 3.0), minor=[-.5,-.3,-.1,.1,.3,.5,1.05,1.3,1.5,2.0,2.3])
p.scatter(x=a3_blue_x, y=a3_blue_y, size=1.9, fill_color="#3f55b5", line_color=None, fill_alpha=.65, x_range_name="a3x", y_range_name="a3y")
p.scatter(x=a3_hot_x, y=a3_hot_y, size=1.9, fill_color="#d9d24a", line_color=None, x_range_name="a3x", y_range_name="a3y")
p.scatter(x=a3_red_x, y=a3_red_y, size=1.9, fill_color="#e0563e", line_color=None, x_range_name="a3x", y_range_name="a3y")
p.quad(left=[143, 151, 100], right=[187, 187, 151], top=[377, 444, 444], bottom=[443, 496, 496], fill_color=None, line_color="#555555", line_width=1)
p.quad(left=[142, 100], right=[188, 151], top=[376, 444], bottom=[443, 495], fill_color=None, line_color="#d0302a", line_width=1.3)
for x, y, s in [(164,385,"t-Tregs"),(164,393,"43.9"),(123,478,"p-Tregs"),(123,486,"39.2"),(169,476,"Act t-Tregs"),(169,484,"17.3")]:
    txt(x, y, s, 6.8)
arrow(58, 513, 58, 460); arrow(58, 513, 112, 513)
txt(48, 489, "CD45RA", 12.5, angle=pi/2); txt(82, 525, "GPA33", 12.5)

# ---------- Panel B ----------
txt(347, 12, "B", 17, align="left")
xr("hx", 0, 350.3, 24, 718.3); yr("hy", 0, 28.3, 50, 530.7)
cols = []
for i in range(128):
    t = i / 127
    cols.append("#%02x%02x%02x" % (round(27 + (255-27)*t), round(54 + (255-54)*t), round(104 + (255-104)*t)))
for i in range(1, 128):
    t = i / 127
    cols.append("#%02x%02x%02x" % (round(255 + (127-255)*t), round(255 + (20-255)*t), round(255 + (22-255)*t)))
mapper = LinearColorMapper(palette=cols, low=-4, high=4)
hx, hy, hv = [], [], []
for r, row in enumerate(expr):
    for c, v in enumerate(row):
        hx.append(c + .5); hy.append(r + .5); hv.append(v)
p.rect(x="x", y="y", width=1.01, height=1.01, fill_color=transform("v", mapper), line_color=None,
       source=ColumnDataSource(dict(x=hx, y=hy, v=hv)), x_range_name="hx", y_range_name="hy")
gene_ticks = [i + .5 for i in range(len(genes))]
ga = axis("right", "hx", "hy", 24, gene_ticks, genes, (0, 50), size=9, tick=0)
ga.axis_line_color = None; ga.major_tick_line_color = None; ga.major_label_standoff = 2
p.segment(x0=[352, 535], y0=[540, 540], x1=[532, 718], y1=[540, 540], line_color="#555555", line_width=1.2)
txt(445, 551, "p-Tregs", 13.2); txt(629, 551, "t-Tregs", 13.2)
txt(617, 592, "Normalized + Log2", 9, align="left")
cb = ColorBar(color_mapper=mapper, location=(720, 486), width=11, height=54, padding=0, margin=0,
              ticker=FixedTicker(ticks=[-4, 0, 4]), major_label_overrides={-4: "\u22124", 0: "0", 4: "4"},
              major_label_text_font=FONT, major_label_text_font_size="8px", major_label_text_color="#333333",
              major_tick_line_color="#ffffff", bar_line_color=None, border_line_color=None, background_fill_color=None,
              label_standoff=4)
p.add_layout(cb, "center")

# ---------- Panel C ----------
txt(2, 580, "C", 18, align="left")
ant, chx, chk, imm, cyt, vir = (66, 642), (245, 734), (233, 795), (128, 792), (225, 945), (98, 1012)
def edges(leaves, hubs):
    x0, y0, x1, y1 = [], [], [], []
    for _, x, y in leaves:
        for hx_, hy_ in hubs:
            x0.append(x); y0.append(y); x1.append(hx_); y1.append(hy_)
    p.segment(x0=x0, y0=y0, x1=x1, y1=y1, line_color="#d2d2d2", line_width=.7)
edges(ant_leaves, [ant, imm]); edges(che_leaves, [chx]); edges(mid_leaves, [chx, imm]); edges(imm_leaves, [imm])
edges(ccl_leaves, [chk, imm, cyt]); edges(cyt_leaves, [imm, cyt]); edges(cyt2_leaves, [cyt]); edges(vir_leaves, [vir])
p.segment(x0=[245], y0=[734], x1=[276], y1=[858], line_color="#d2d2d2", line_width=.7)
for group in [ant_leaves, che_leaves, mid_leaves, imm_leaves, ccl_leaves, cyt_leaves, cyt2_leaves, vir_leaves]:
    names = [g[0] for g in group]; xs = [g[1] for g in group]; ys = [g[2] for g in group]
    p.scatter(x=xs, y=[y + 2 for y in ys], size=2.2, fill_color="#6a6ad0", line_color=None, fill_alpha=.7)
    p.text(x=xs, y=ys, text=names, text_font=value(FONT), text_font_size="3.4px", text_color="#444444", text_align="center", text_baseline="middle")
for x, y, s, f in [(83,599,"p-Tregs",13.2),(64,901,"t-Tregs",13.2)]:
    txt(x, y, s, f)
hub_labels = [(117,621,"Antigen processing and presentation",13.2),(101,639,"through MHC class II",13.2),(248,736,"Chemotaxis",13.2),
              (255,779,"Chemokine-mediated",13.2),(257,791,"signaling pathway",13.2),(141,788,"Immune",13.2),(142,801,"response",13.2),
              (236,944,"Cytokine-mediated signaling",13.2),(236,960,"pathway",13.2),(109,1008,"Viral transcription",13.2),(109,1021,"Cytoplasmic translation",13.2)]
for x, y, s, f in hub_labels:
    p.text(x=[x], y=[y], text=[s], text_alpha=0, text_font=value(FONT), text_font_size=f"{f}px", text_align="center", text_baseline="middle",
           background_fill_color="#ffffff", padding=1)
for x, y, s, f in hub_labels:
    txt(x, y, s, f)

# ---------- Panel D ----------
txt(349, 597, "D", 18, align="left")
xr("vx", 0, 559, 5, 719); yr("vy", 0, 985, 25, 668)
axis("below", "vx", "vy", -1.26, v_ticks_x, ["\u22125.0", "\u22122.5", "0.0", "2.5", "5.0"], (-5.5, 5.5), size=13.2, width=1.2)
axis("left", "vx", "vy", -5.5, v_ticks_y, ["0", "5", "10", "15", "20", "25"], (-1.26, 26.3), size=13.2, width=1.2)
for xs, ys, c, s in [(v_blue_x, v_blue_y, "#5b9bd5", 5.6), (v_gray_x, v_gray_y, "#2c2c2c", 4.2), (v_yel_x, v_yel_y, "#f2d62a", 5.6), (v_org_x, v_org_y, "#e5842a", 5.6)]:
    p.scatter(x=xs, y=ys, size=s, fill_color=c, line_color="#333333", line_width=.5, x_range_name="vx", y_range_name="vy")
p.segment(x0=[-1, 1, -5.5], y0=[-1.26, -1.26, 1.3], x1=[-1, 1, 5.5], y1=[26.3, 26.3, 1.3], line_color="#333333", line_width=1, line_dash="4 3", x_range_name="vx", y_range_name="vy")
p.scatter(x=v_blk_x, y=v_blk_y, size=5.5, fill_color="#111111", line_color="#111111", x_range_name="vx", y_range_name="vy")
vxp = [(px - 559) / 32 for _, px, _, _ in v_labels]; vyp = [(985 - py) / 12.68 for _, _, py, _ in v_labels]
p.segment(x0=vxp, y0=vyp, x1=[v_blk_x[i] for *_, i in v_labels], y1=[v_blk_y[i] for *_, i in v_labels], line_color="#111111", line_width=.8, x_range_name="vx", y_range_name="vy")
p.rect(x=vxp, y=vyp, width=[5.6 * len(l[0]) + 5 for l in v_labels], height=10, width_units="screen", height_units="screen",
       fill_color="#ffffff", fill_alpha=.92, line_color="#8a8a8a", line_width=.8, border_radius=2, x_range_name="vx", y_range_name="vy")
p.text(x=vxp, y=vyp, text=[l[0] for l in v_labels], text_font=value(FONT), text_font_size="9.4px", text_color="#222222",
       text_align="center", text_baseline="middle", x_range_name="vx", y_range_name="vy")
txt(420, 640, "p-Tregs", 13); txt(655, 640, "t-Tregs", 13)
txt(559, 1032, "Log2 Fold change", 14.2)
txt(348, 798, "value", 13.8, angle=pi/2); txt(348, 823, "P", 13.8, angle=pi/2, style="italic"); txt(348, 853, "-log10", 13.8, angle=pi/2)
leg_y = [661, 676, 690, 705]
p.scatter(x=[618]*4, y=leg_y, size=6.5, fill_color=legend_cols, line_color=None)
p.text(x=[630]*4, y=[663, 676, 690, 702], text=legend_names, text_font=value(FONT), text_font_size="12.9px", text_color="#222222", text_baseline="middle")

open("out.html", "w").write(file_html(p, INLINE))
